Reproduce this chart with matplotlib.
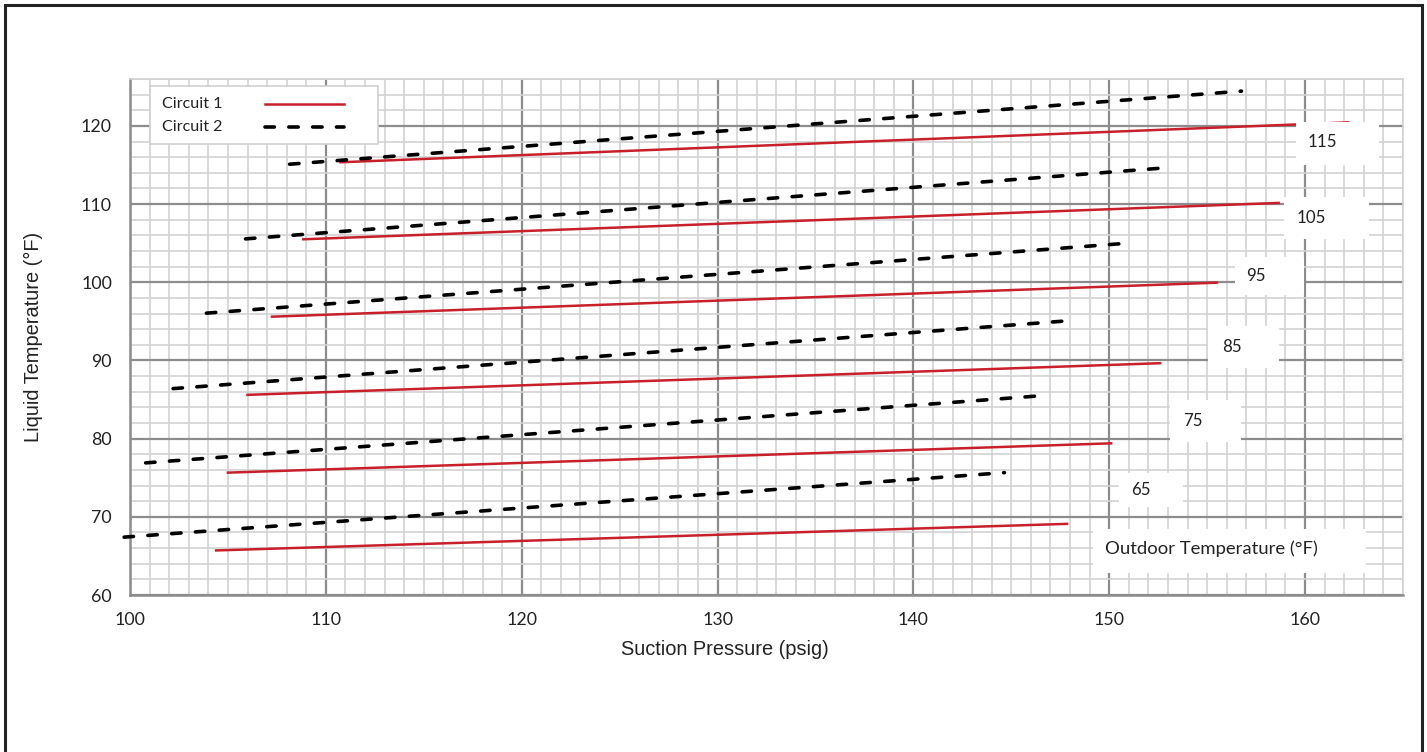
import matplotlib
matplotlib.use("Agg")
import matplotlib.pyplot as plt
from matplotlib.patches import Rectangle
from matplotlib.lines import Line2D
from matplotlib.ticker import MultipleLocator

# outdoor temperature (F) for each pair of lines
outdoor = [65, 75, 85, 95, 105, 115]

# Circuit 1 (red, solid): end points
c1_x_start = [104.4, 105.0, 106.0, 107.25, 108.85, 110.75]
c1_y_start = [65.7, 75.65, 85.6, 95.6, 105.5, 115.35]
c1_x_end = [147.85, 150.1, 152.6, 155.5, 158.65, 162.2]
c1_y_end = [69.1, 79.4, 89.65, 99.95, 110.15, 120.45]

# Circuit 2 (black, dashed)
c2_x_start = [99.7, 100.8, 102.2, 103.9, 105.9, 108.15]
c2_y_start = [67.4, 76.9, 86.4, 96.05, 105.55, 115.1]
c2_x_end = [144.65, 146.85, 148.3, 151.2, 153.2, 156.75]
c2_y_end = [75.65, 85.55, 95.15, 105.05, 114.7, 124.45]

# label boxes for the outdoor temperatures
box_x0 = [150.5, 153.1, 155.05, 156.4, 158.9, 159.55]
box_x1 = [153.75, 156.75, 158.65, 159.95, 163.25, 163.75]
box_y0 = [71.3, 79.6, 89.0, 98.35, 105.5, 115.0]
box_y1 = [75.6, 84.95, 94.4, 103.25, 110.9, 120.45]
lab_x = [151.1, 153.75, 155.75, 157.0, 159.55, 160.15]
lab_y = [73.4, 82.3, 91.7, 100.8, 108.2, 117.95]

RED = "#c8202a"
MAJOR = "#8c8c8c"
MINOR = "#d2d2d2"
CAL = ["Lato", "DejaVu Sans"]
ARIAL = ["Liberation Sans", "DejaVu Sans"]

fig = plt.figure(figsize=(14.27, 7.52), dpi=100)
ax = fig.add_axes([130 / 1427, 157 / 752, 1273 / 1427, 516 / 752])

# outer frame of the figure (bottom edge runs off the picture)
fig.patches.append(Rectangle((5 / 1427, -20 / 752), 1417 / 1427, 767 / 752,
                             transform=fig.transFigure, fill=False,
                             edgecolor="#222222", linewidth=2.2))

ax.set_xlim(100, 165)
ax.set_ylim(60, 126)
ax.xaxis.set_major_locator(MultipleLocator(10))
ax.xaxis.set_minor_locator(MultipleLocator(1))
ax.yaxis.set_major_locator(MultipleLocator(10))
ax.yaxis.set_minor_locator(MultipleLocator(2))
ax.set_axisbelow(True)
ax.grid(which="minor", color=MINOR, linewidth=1.2)
ax.grid(which="major", color=MAJOR, linewidth=1.6)
ax.tick_params(which="both", length=0)
ax.tick_params(axis="x", pad=12, labelsize=12.8, labelcolor="#222222")
ax.tick_params(axis="y", pad=13, labelsize=12.8, labelcolor="#222222")
for lab in ax.get_xticklabels() + ax.get_yticklabels():
    lab.set_family(CAL)

for side in ["left", "bottom"]:
    ax.spines[side].set_color(MAJOR)
    ax.spines[side].set_linewidth(1.8)
for side in ["top", "right"]:
    ax.spines[side].set_color(MINOR)
    ax.spines[side].set_linewidth(1.2)

for i in range(len(outdoor)):
    ax.plot([c1_x_start[i], c1_x_end[i]], [c1_y_start[i], c1_y_end[i]],
            color=RED, linewidth=1.8, zorder=3, clip_on=False)
    ax.plot([c2_x_start[i], c2_x_end[i]], [c2_y_start[i], c2_y_end[i]],
            color="black", linewidth=2.6, dashes=(2.6, 4.0),
            dash_capstyle="round", zorder=3, clip_on=False)
    ax.add_patch(Rectangle((box_x0[i], box_y0[i]), box_x1[i] - box_x0[i],
                           box_y1[i] - box_y0[i], facecolor="white",
                           edgecolor="none", zorder=4))
    ax.text(lab_x[i], lab_y[i], str(outdoor[i]), fontsize=12.2, family=CAL,
            color="#222222", ha="left", va="center", zorder=5)

ax.add_patch(Rectangle((149.15, 62.8), 13.95, 5.65, facecolor="white",
                       edgecolor="none", zorder=4))
ax.text(149.8, 65.95, "Outdoor Temperature (°F)", fontsize=13.3, family=CAL,
        color="#222222", ha="left", va="center", zorder=5)

# legend box
ax.add_patch(Rectangle((20 / 1273, (595 - 144.3) / 516), 227.7 / 1273, 58.6 / 516,
                       transform=ax.transAxes, facecolor="white",
                       edgecolor="#cfcfcf", linewidth=1.2, zorder=6))
ax.text(32 / 1273, (595 - 103.5) / 516, "Circuit 1", transform=ax.transAxes,
        fontsize=11.6, family=CAL, color="#222222", va="center", zorder=7)
ax.text(32 / 1273, (595 - 127) / 516, "Circuit 2", transform=ax.transAxes,
        fontsize=11.6, family=CAL, color="#222222", va="center", zorder=7)
ax.add_line(Line2D([135 / 1273, 214 / 1273], [(595 - 104) / 516] * 2,
                   transform=ax.transAxes, color=RED, linewidth=1.8, zorder=7))
ax.add_line(Line2D([135 / 1273, 214 / 1273], [(595 - 127) / 516] * 2,
                   transform=ax.transAxes, color="black", linewidth=2.6,
                   dashes=(2.6, 4.0), dash_capstyle="round", zorder=7))

ax.set_xlabel("Suction Pressure (psig)", fontsize=14.4, family=ARIAL, color="#222222")
ax.xaxis.set_label_coords(594.7 / 1273, -45 / 516)
ax.set_ylabel("Liquid Temperature (°F)", fontsize=14.4, family=ARIAL, color="#222222")
ax.yaxis.set_label_coords(-87 / 1273, 0.5)

fig.savefig("out.png", dpi=100)
